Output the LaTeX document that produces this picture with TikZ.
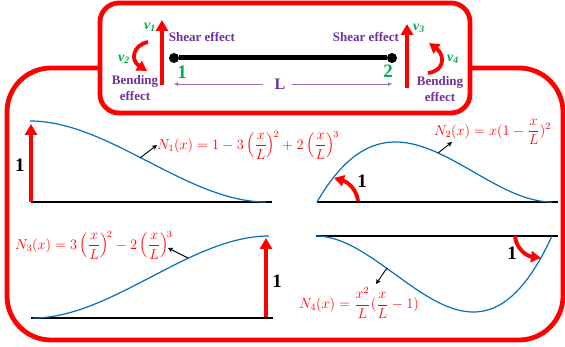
\documentclass[tikz,border=0pt]{standalone}
\usepackage{amsmath,amssymb}
\usepackage{fontspec}
\usepackage{xcolor}
\usetikzlibrary{arrows.meta}
\newfontfamily\lblfont{Liberation Serif}
\definecolor{redline}{HTML}{FF0000}
\definecolor{purptext}{HTML}{7030A0}
\definecolor{greentext}{HTML}{00B050}
\definecolor{bluecurve}{HTML}{0070C0}

\begin{document}
\begin{tikzpicture}[x=1pt,y=-1pt,
  box/.style={draw=redline,line width=4.8pt,fill=white,inner sep=0pt},
  eff/.style={align=center,inner sep=0pt,text=purptext,font=\lblfont\fontsize{13}{15.5}\selectfont\bfseries},
  vv/.style={inner sep=0pt,text=greentext,font=\lblfont\fontsize{14}{14}\selectfont\bfseries\itshape},
  num/.style={inner sep=0pt,text=greentext,font=\lblfont\fontsize{19}{19}\selectfont\bfseries},
  one/.style={inner sep=0pt,font=\lblfont\fontsize{19}{19}\selectfont\bfseries},
  eq/.style={inner sep=0pt,text=redline,scale=1.2,font=\fontsize{11.5}{14}\selectfont},
  ra/.style={-{Triangle[length=11pt,width=12pt]},draw=redline,line width=3.8pt},
  rb/.style={-{Triangle[length=10pt,width=11pt]},draw=redline,line width=3.8pt},
  la/.style={-{Stealth[length=5pt,width=5pt]},line width=0.9pt},
  base/.style={line width=1.9pt},
  sh/.style={draw=bluecurve,line width=1.2pt},
  dot/.style={circle,fill=black,minimum size=10pt,inner sep=0pt},
  lenarrow/.style={-{Latex[length=4pt,width=4pt]},draw=purptext!70,line width=0.5pt}
]
\useasboundingbox (0,0) rectangle (565,347);
% frames
\node[box,rounded corners=44pt,minimum width=556pt,minimum height=272pt] (lowerbox) at (285,204) {};
\node[box,rounded corners=19pt,minimum width=370pt,minimum height=110pt] (upperbox) at (285,58) {};

% beam
\node[dot] (d1) at (174,58) {};
\node[dot] (d2) at (392,58) {};
\draw[line width=5pt] (d1)--(d2);
\node[num] (n1) at (182,72) {1};
\node[num] (n2) at (388,71) {2};
\node[inner sep=1pt,text=purptext,font=\lblfont\fontsize{16}{16}\selectfont\bfseries] (len) at (280,84) {L};
\coordinate (lenl) at (174,84);
\coordinate (lenr) at (392,84);
\draw[lenarrow] (len.west)++(-10,0)--(lenl);
\draw[lenarrow] (len.east)++(5,0)--(lenr);

% left end
\coordinate (v1a) at (162,85); \coordinate (v1b) at (162,20);
\draw[ra] (v1a)--(v1b);
\coordinate (v2a) at (148,42); \coordinate (v2b) at (147,71);
\draw[rb] (v2a) .. controls (133,45) and (130,60) .. (v2b);
\node[vv] (v1) at (150,27) {v\textsubscript{1}};
\node[vv] (v2) at (124,59) {v\textsubscript{2}};
\node[eff] (s1) at (202,37) {Shear effect};
\node[eff] (b1) at (135,88) {Bending\\effect};

% right end
\coordinate (v3a) at (407,88); \coordinate (v3b) at (407,24);
\draw[ra] (v3a)--(v3b);
\coordinate (v4a) at (428,73); \coordinate (v4b) at (429,43);
\draw[rb] (v4a) .. controls (445,71) and (445,55) .. (v4b);
\node[vv] (v3) at (419,28) {v\textsubscript{3}};
\node[vv] (v4) at (453,59) {v\textsubscript{4}};
\node[eff] (s2) at (366,37) {Shear effect};
\node[eff] (b2) at (440,89) {Bending\\effect};

% N1
\coordinate (a1) at (31,202); \coordinate (b1l) at (272,202); \coordinate (t1) at (31,124);
\draw[base] (a1)--(b1l);
\draw[sh] plot[domain=0:1,samples=50,smooth] ({30+236*\x},{202-81*(1-3*\x^2+2*\x^3)});
\draw[ra] (a1)--(t1);
\node[one] (o1) at (20,165) {1};
\node[eq,anchor=west] (e1) at (157,145) {$N_1(x)=1-3\left(\dfrac{x}{L}\right)^{\!2}+2\left(\dfrac{x}{L}\right)^{\!3}$};
\coordinate (p1) at (140,158);
\draw[la] (p1)--(e1.west);

% N2
\coordinate (a2) at (317,202); \coordinate (b2) at (558,202);
\draw[base] (a2)--(b2);
\draw[sh] plot[domain=0:1,samples=50,smooth] ({317+235*\x},{202-405*\x*(1-\x)^2});
\coordinate (c2a) at (358,201); \coordinate (c2b) at (334,178);
\draw[rb] (c2a) .. controls (357,190) and (348,182) .. (c2b);
\node[one] (o2) at (362,181) {1};
\node[eq,anchor=west] (e2) at (434,132) {$N_2(x)=x(1-\dfrac{x}{L})^2$};
\coordinate (p2) at (438,153); \coordinate (q2) at (452,142);
\draw[la] (p2)--(q2);

% N3
\coordinate (a3) at (31,318); \coordinate (b3) at (273,318); \coordinate (s3) at (266,317); \coordinate (t3) at (266,238);
\draw[base] (a3)--(b3);
\draw[sh] plot[domain=0:1,samples=50,smooth] ({33+236*\x},{318-82*(3*\x^2-2*\x^3)});
\draw[ra] (s3)--(t3);
\node[one] (o3) at (277,281) {1};
\node[eq,anchor=west] (e3) at (15,245) {$N_3(x)=3\left(\dfrac{x}{L}\right)^{\!2}-2\left(\dfrac{x}{L}\right)^{\!3}$};
\coordinate (p3) at (188,258); \coordinate (q3) at (168,248);
\draw[la] (p3)--(q3);

% N4
\coordinate (a4) at (316,236); \coordinate (b4) at (558,236);
\draw[base] (a4)--(b4);
\draw[sh] plot[domain=0:1,samples=50,smooth] ({316+236*\x},{236+513*\x^2*(1-\x)});
\coordinate (c4a) at (515,236); \coordinate (c4b) at (541,258);
\draw[rb] (c4a) .. controls (516,248) and (526,256) .. (c4b);
\node[one] (o4) at (512,253) {1};
\node[eq,anchor=west] (e4) at (299,303) {$N_4(x)=\dfrac{x^2}{L}(\dfrac{x}{L}-1)$};
\coordinate (p4) at (387,268); \coordinate (q4) at (376,284);
\draw[la] (p4)--(q4);
\end{tikzpicture}
\end{document}
